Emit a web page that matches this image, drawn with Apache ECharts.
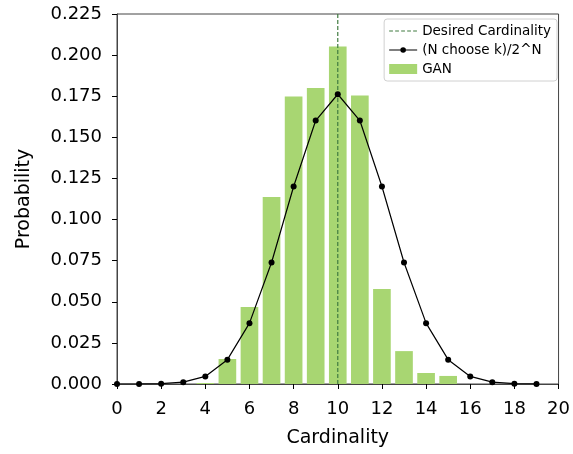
<!DOCTYPE html>
<html>
<head>
<meta charset="utf-8">
<script src="https://cdn.jsdelivr.net/npm/echarts@6/dist/echarts.min.js"></script>
<style>
  html, body { margin: 0; padding: 0; background: #fff; }
  #chart { width: 573px; height: 454px; }
</style>
</head>
<body>
<div id="chart"></div>
<script>
// Cardinality distribution: GAN samples vs. binomial reference
const cardinalities = [0, 1, 2, 3, 4, 5, 6, 7, 8, 9, 10, 11, 12, 13, 14, 15, 16, 17, 18, 19];
const binomialProb = [0.000001, 0.000019, 0.00018, 0.0011, 0.0046, 0.0148, 0.037, 0.0739, 0.1201, 0.1602,
                      0.1762, 0.1602, 0.1201, 0.0739, 0.037, 0.0148, 0.0046, 0.0011, 0.00018, 0.000019];
const ganCardinalities = [4, 5, 6, 7, 8, 9, 10, 11, 12, 13, 14, 15];
const ganProb = [0.0006, 0.0152, 0.0468, 0.1137, 0.1748, 0.180, 0.2052, 0.1754, 0.0578, 0.020, 0.0067, 0.0049];
const desiredCardinality = 10;
const xTicks = [0, 20, 2];
const yTicks = [0, 0.225, 0.025];

const font = 'DejaVu Sans';

// Legend glyphs drawn in a 28x10 box: a dashed rule, and a rule with a dot
const dashedIcon = 'path://M0,0M28,10' +
  'M0,4.4h3.8v1.2h-3.8Z M6,4.4h3.8v1.2h-3.8Z M12,4.4h3.8v1.2h-3.8Z' +
  'M18,4.4h3.8v1.2h-3.8Z M24,4.4h3.8v1.2h-3.8Z';
const dotLineIcon = 'path://M0,0M28,10' +
  'M0,4.4h11.5v1.2h-11.5Z M16.5,4.4h11.5v1.2h-11.5Z' +
  'M16.8,5A2.8,2.8,0,1,1,11.2,5A2.8,2.8,0,1,1,16.8,5Z';

const chart = echarts.init(document.getElementById('chart'));

chart.setOption({
  animation: false,
  textStyle: { fontFamily: font },
  grid: { left: 117, right: 12, top: 14, bottom: 70, show: true, borderColor: '#444', borderWidth: 1 },
  legend: {
    right: 16, top: 19, orient: 'vertical',
    itemWidth: 28, itemHeight: 10, itemGap: 5,
    backgroundColor: 'rgba(255,255,255,0.85)',
    borderColor: '#d0d0d0', borderWidth: 1, borderRadius: 3,
    padding: [5, 6, 5, 5],
    textStyle: { fontFamily: font, fontSize: 13.5, color: '#000' },
    data: [
      { name: 'Desired Cardinality', icon: dashedIcon },
      { name: '(N choose k)/2^N', icon: dotLineIcon },
      { name: 'GAN', icon: 'rect' }
    ]
  },
  xAxis: {
    type: 'value', min: xTicks[0], max: xTicks[1], interval: xTicks[2],
    name: 'Cardinality', nameLocation: 'middle', nameGap: 45,
    nameTextStyle: { fontFamily: font, fontSize: 19, color: '#000' },
    axisLine: { lineStyle: { color: '#444' } },
    axisTick: { show: true, length: 5, lineStyle: { color: '#000' } },
    axisLabel: { fontFamily: font, fontSize: 18, color: '#000', margin: 16 },
    splitLine: { show: false }
  },
  yAxis: {
    type: 'value', min: yTicks[0], max: yTicks[1], interval: yTicks[2],
    name: 'Probability', nameLocation: 'middle', nameGap: 83,
    nameTextStyle: { fontFamily: font, fontSize: 19, color: '#000' },
    axisLine: { show: true, lineStyle: { color: '#444' } },
    axisTick: { show: true, length: 5, lineStyle: { color: '#000' } },
    axisLabel: { fontFamily: font, fontSize: 18, color: '#000', margin: 15,
                 formatter: v => v.toFixed(3) },
    splitLine: { show: false }
  },
  series: [
    {
      name: 'GAN', type: 'custom', z: 1,
      itemStyle: { color: '#a8d672' },
      data: ganCardinalities.map((c, i) => [c, ganProb[i]]),
      renderItem: (params, api) => {
        const x = api.value(0), y = api.value(1);
        const p0 = api.coord([x - 0.4, y]);
        const p1 = api.coord([x + 0.4, 0]);
        return {
          type: 'rect',
          shape: { x: p0[0], y: p0[1], width: p1[0] - p0[0], height: p1[1] - p0[1] },
          style: { fill: '#a8d672' }
        };
      }
    },
    {
      name: 'Desired Cardinality', type: 'line', z: 2,
      symbol: 'none',
      itemStyle: { color: '#3f7a3f' },
      lineStyle: { color: '#3f7a3f', width: 1.2, type: [4, 2] },
      data: [[desiredCardinality, yTicks[0]], [desiredCardinality, yTicks[1]]]
    },
    {
      name: '(N choose k)/2^N', type: 'line', z: 3,
      symbol: 'circle', symbolSize: 6,
      itemStyle: { color: '#000' },
      lineStyle: { color: '#000', width: 1.2 },
      data: cardinalities.map((c, i) => [c, binomialProb[i]])
    }
  ]
});
</script>
</body>
</html>
